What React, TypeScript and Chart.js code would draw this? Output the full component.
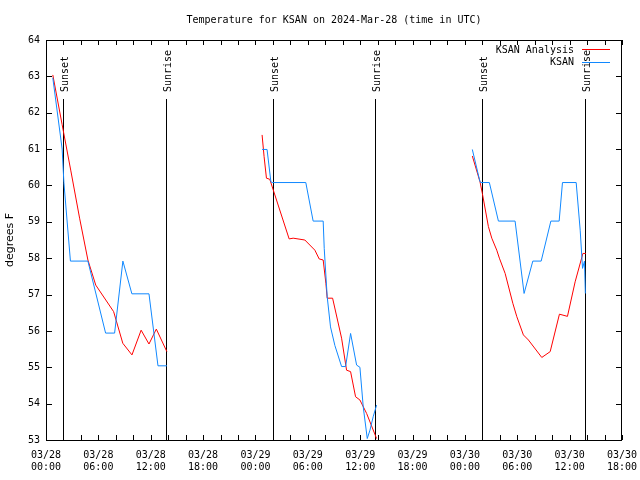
import React, { useEffect, useRef } from "react";
import { Chart, registerables } from "chart.js";

Chart.register(...registerables);

// Hours after 2024-03-28 00:00 UTC
const analysisHours1 = [0.78, 1.85, 2.85, 3.85, 4.8, 5.7, 6.85, 7.75, 8.8, 9.85, 10.9, 11.8, 12.64, 13.85];
const analysisTemps1 = [63.04, 61.67, 60.4, 59.1, 57.95, 57.26, 56.85, 56.53, 55.66, 55.34, 56.02, 55.64, 56.05, 55.43];
const analysisHours2 = [24.76, 24.99, 25.26, 25.64, 27.86, 28.32, 29.66, 30.81, 31.3, 31.76, 32.07, 32.22, 32.84, 33.87, 34.44, 34.9, 35.47, 35.97, 36.74, 37.88];
const analysisTemps2 = [61.39, 60.79, 60.2, 60.17, 58.53, 58.55, 58.5, 58.22, 57.98, 57.95, 57.31, 56.9, 56.9, 55.8, 54.92, 54.88, 54.19, 54.1, 53.73, 53.04];
const analysisHours3 = [48.85, 49.73, 50.0, 50.69, 51.08, 51.65, 51.95, 52.61, 53.49, 53.95, 54.7, 55.28, 56.81, 57.77, 58.83, 59.75, 60.63, 61.52, 61.86];
const analysisTemps3 = [60.81, 60.1, 59.78, 58.87, 58.55, 58.22, 58.0, 57.58, 56.76, 56.39, 55.89, 55.75, 55.27, 55.43, 56.46, 56.4, 57.35, 58.13, 58.13];

const obsHours1 = [0.78, 1.85, 2.05, 2.8, 4.8, 6.83, 7.86, 8.81, 9.84, 11.8, 12.83, 13.86];
const obsTemps1 = [62.96, 61.0, 60.08, 57.92, 57.92, 55.94, 55.94, 57.92, 57.02, 57.02, 55.04, 55.04];
const obsHours2 = [24.76, 25.33, 25.77, 25.92, 29.77, 30.61, 31.76, 31.88, 32.22, 32.6, 33.1, 33.87, 34.33, 34.9, 35.59, 35.97, 36.35, 36.81, 37.12, 37.49, 37.88];
const obsTemps2 = [60.99, 60.99, 60.1, 60.08, 60.08, 59.02, 59.02, 58.27, 56.94, 56.11, 55.6, 55.02, 55.02, 55.93, 55.06, 55.0, 53.91, 53.04, 53.27, 53.64, 53.96];
const obsHours3 = [48.85, 49.73, 49.85, 50.8, 51.84, 53.75, 54.78, 55.78, 56.74, 57.85, 58.8, 59.18, 60.75, 61.21, 61.48, 61.7, 61.8];
const obsTemps3 = [60.99, 60.1, 60.08, 60.08, 59.02, 59.02, 57.03, 57.92, 57.92, 59.02, 59.02, 60.08, 60.08, 58.77, 57.72, 57.92, 57.03];

const sunHours = [2.0, 13.75, 26.02, 37.72, 50.0, 61.78];
const sunLabels = ["Sunset", "Sunrise", "Sunset", "Sunrise", "Sunset", "Sunrise"];

const tickDates = ["03/28", "03/28", "03/28", "03/28", "03/29", "03/29", "03/29", "03/29", "03/30", "03/30", "03/30", "03/30"];
const tickTimes = ["00:00", "06:00", "12:00", "18:00", "00:00", "06:00", "12:00", "18:00", "00:00", "06:00", "12:00", "18:00"];

const titleText = "Temperature for KSAN on 2024-Mar-28 (time in UTC)";
const seriesNames = ["KSAN Analysis", "KSAN"];
const seriesColors = ["#ff0000", "#1088ff"];

const MONO = '"DejaVu Sans Mono", monospace';

function joinSegments(hours: number[][], temps: number[][]) {
  const out: { x: number; y: number | null }[] = [];
  hours.forEach((hs, s) => {
    if (s > 0) out.push({ x: (hours[s - 1][hours[s - 1].length - 1] + hs[0]) / 2, y: null });
    hs.forEach((h, i) => out.push({ x: h, y: temps[s][i] }));
  });
  return out;
}

const decorPlugin = {
  id: "gnuplotDecor",
  beforeDatasetsDraw(chart: any) {
    const { ctx, chartArea, scales } = chart;
    const { top, bottom } = chartArea;
    const x = scales.x;
    ctx.save();
    ctx.strokeStyle = "#000";
    ctx.fillStyle = "#000";
    ctx.lineWidth = 1;
    sunHours.forEach((h, i) => {
      const px = Math.round(x.getPixelForValue(h)) + 0.5;
      ctx.beginPath();
      ctx.moveTo(px, top + 59);
      ctx.lineTo(px, bottom);
      ctx.stroke();
      ctx.save();
      ctx.translate(px + 2, top + 52);
      ctx.rotate(-Math.PI / 2);
      ctx.font = "10px " + MONO;
      ctx.textAlign = "left";
      ctx.textBaseline = "middle";
      ctx.fillText(sunLabels[i], 0, 0);
      ctx.restore();
    });
    ctx.restore();
  },
  afterDraw(chart: any) {
    const { ctx, chartArea, scales } = chart;
    const { left, right, top, bottom } = chartArea;
    const x = scales.x;
    const y = scales.y;
    ctx.save();
    ctx.strokeStyle = "#000";
    ctx.lineWidth = 1;
    // frame
    ctx.strokeRect(left + 0.5, top + 0.5, right - left - 1, bottom - top);
    // inward ticks
    ctx.beginPath();
    x.ticks.forEach((t: any) => {
      const px = Math.round(x.getPixelForValue(t.value)) + 0.5;
      ctx.moveTo(px, bottom);
      ctx.lineTo(px, bottom - 5);
      ctx.moveTo(px, top);
      ctx.lineTo(px, top + 5);
    });
    y.ticks.forEach((t: any) => {
      const py = Math.round(y.getPixelForValue(t.value)) + 0.5;
      ctx.moveTo(left, py);
      ctx.lineTo(left + 6, py);
      ctx.moveTo(right, py);
      ctx.lineTo(right - 6, py);
    });
    ctx.stroke();
    // title
    ctx.fillStyle = "#000";
    ctx.font = "10px " + MONO;
    ctx.textAlign = "center";
    ctx.textBaseline = "middle";
    ctx.fillText(titleText, (left + right) / 2, 20);
    // legend
    ctx.textAlign = "right";
    seriesNames.forEach((name, i) => {
      const ly = top + 10 + i * 12.5;
      ctx.fillStyle = "#000";
      ctx.fillText(name, right - 48, ly);
      ctx.strokeStyle = seriesColors[i];
      ctx.beginPath();
      ctx.moveTo(right - 40, Math.round(ly) - 0.5);
      ctx.lineTo(right - 12, Math.round(ly) - 0.5);
      ctx.stroke();
    });
    ctx.restore();
  },
};

export default function App() {
  const canvasRef = useRef<HTMLCanvasElement | null>(null);

  useEffect(() => {
    const canvas = canvasRef.current;
    if (!canvas) return;
    const chart = new Chart(canvas, {
      type: "line",
      data: {
        datasets: [
          {
            label: seriesNames[0],
            data: joinSegments([analysisHours1, analysisHours2, analysisHours3], [analysisTemps1, analysisTemps2, analysisTemps3]),
            borderColor: seriesColors[0],
            backgroundColor: seriesColors[0],
            borderWidth: 1,
            pointRadius: 0,
            tension: 0,
            spanGaps: false,
            order: 2,
          },
          {
            label: seriesNames[1],
            data: joinSegments([obsHours1, obsHours2, obsHours3], [obsTemps1, obsTemps2, obsTemps3]),
            borderColor: seriesColors[1],
            backgroundColor: seriesColors[1],
            borderWidth: 1,
            pointRadius: 0,
            tension: 0,
            spanGaps: false,
            order: 1,
          },
        ],
      },
      plugins: [decorPlugin],
      options: {
        animation: false,
        responsive: false,
        devicePixelRatio: 1,
        layout: { padding: { top: 40, right: 18, left: 0, bottom: 0 } },
        plugins: {
          legend: { display: false },
          title: { display: false },
          tooltip: { enabled: false },
        },
        scales: {
          x: {
            type: "linear",
            min: 0,
            max: 66,
            grid: { display: false, drawTicks: false },
            border: { display: false },
            ticks: {
              stepSize: 2,
              autoSkip: false,
              maxRotation: 0,
              minRotation: 0,
              padding: 9,
              color: "#000",
              font: { family: MONO, size: 10, lineHeight: 1.2 },
              callback: (v: any) => {
                const n = Number(v);
                if (n % 6 !== 0) return "";
                const i = n / 6;
                return [tickDates[i], tickTimes[i]];
              },
            },
            afterFit: (s: any) => {
              s.height = 40;
              s.paddingLeft = 0;
              s.paddingRight = 0;
            },
          },
          y: {
            type: "linear",
            min: 53,
            max: 64,
            grid: { display: false, drawTicks: false },
            border: { display: false },
            ticks: {
              stepSize: 1,
              padding: 6,
              color: "#000",
              font: { family: MONO, size: 10, lineHeight: 1.2 },
            },
            title: {
              display: true,
              text: "degrees F",
              color: "#000",
              font: { family: '"DejaVu Sans", sans-serif', size: 11, lineHeight: 1.2 },
              padding: { top: 4, bottom: 0 },
            },
            afterFit: (s: any) => {
              s.width = 46;
              s.paddingTop = 0;
              s.paddingBottom = 0;
            },
          },
        },
      },
    });
    return () => chart.destroy();
  }, []);

  return (
    <div style={{ position: "fixed", left: 0, top: 0, width: 640, height: 480, background: "#fff" }}>
      <canvas ref={canvasRef} width={640} height={480} />
    </div>
  );
}
